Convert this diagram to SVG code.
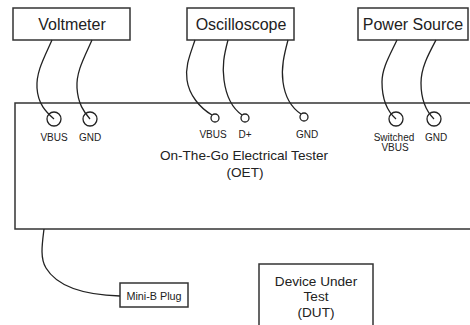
<svg xmlns="http://www.w3.org/2000/svg" width="470" height="325" viewBox="0 0 470 325">
<style>
.box{fill:#fff;stroke:#333;stroke-width:1.5}
.wire{fill:none;stroke:#222;stroke-width:1.3}
.jack{fill:#fff;stroke:#222;stroke-width:1.3}
text{font-family:"Liberation Sans",Arial,sans-serif;fill:#222;text-anchor:middle}
.big{font-size:16px}
.mid{font-size:13.6px}
.sm{font-size:10px}
.plug{font-size:10.8px}
</style>
<rect width="470" height="325" fill="#fff"/>
<g id="oet">
<rect class="box" x="15" y="103" width="470" height="126"/>
<text class="mid" x="244" y="160">On-The-Go Electrical Tester</text>
<text class="mid" x="245" y="177">(OET)</text>
<text class="sm" x="54" y="141">VBUS</text>
<text class="sm" x="90" y="141">GND</text>
<text class="sm" x="213" y="138">VBUS</text>
<text class="sm" x="245" y="138">D+</text>
<text class="sm" x="307" y="138">GND</text>
<text class="sm" x="394" y="141">Switched</text>
<text class="sm" x="395" y="151">VBUS</text>
<text class="sm" x="436" y="141">GND</text>
</g>
<g id="voltmeter">
<rect class="box" x="13" y="8" width="117" height="32"/>
<text class="big" x="72" y="30">Voltmeter</text>
</g>
<g id="oscilloscope">
<rect class="box" x="187" y="8" width="107" height="32"/>
<text class="big" x="241" y="30">Oscilloscope</text>
</g>
<g id="power">
<rect class="box" x="358" y="8" width="110" height="32"/>
<text class="big" x="413" y="30">Power Source</text>
</g>
<g id="miniB">
<rect class="box" x="120" y="283" width="68" height="24"/>
<text class="plug" x="154" y="300">Mini-B Plug</text>
</g>
<g id="dut">
<rect class="box" x="259" y="264" width="114" height="70"/>
<text class="mid" x="316" y="286">Device Under</text>
<text class="mid" x="316" y="301">Test</text>
<text class="mid" x="316" y="317">(DUT)</text>
</g>
<g id="connectors">
<circle class="jack" cx="54" cy="119" r="7"/>
<circle class="jack" cx="90" cy="119" r="7"/>
<circle class="jack" cx="215" cy="118" r="4"/>
<circle class="jack" cx="245" cy="118" r="4"/>
<circle class="jack" cx="304" cy="117" r="4"/>
<circle class="jack" cx="396" cy="119" r="7"/>
<circle class="jack" cx="434" cy="119" r="7"/>
<path class="wire" d="M52,40 C44,58 36,72 37,88 C38,104 46,112 54,119"/>
<path class="wire" d="M92,40 C84,58 76,72 77,88 C78,104 84,112 90,119"/>
<path class="wire" d="M195,40 C190,55 185,66 187,80 C189,95 200,108 212,115"/>
<path class="wire" d="M228,40 C224,55 222,66 224,80 C226,95 232,108 242,115"/>
<path class="wire" d="M288,40 C284,55 281,68 283,82 C285,97 292,108 301,114"/>
<path class="wire" d="M397,40 C390,55 382,68 382,82 C382,100 388,112 396,119"/>
<path class="wire" d="M436,40 C428,55 421,68 421,83 C421,100 427,112 434,119"/>
<path class="wire" d="M44,229 C42,245 40,258 46,268 C58,288 88,295 120,296"/>
</g>
</svg>
